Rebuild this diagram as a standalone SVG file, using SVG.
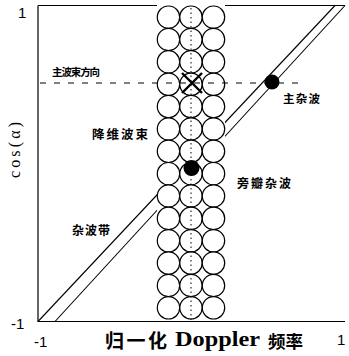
<svg xmlns="http://www.w3.org/2000/svg" xmlns:xlink="http://www.w3.org/1999/xlink" width="349" height="356" viewBox="0 0 349 356">
<style>
.ax{stroke:#000;stroke-width:1.2;fill:none}
.band{stroke:#000;stroke-width:1.1;fill:none}
.cell{stroke:#000;stroke-width:1.2;fill:#fff}
.dash{stroke:#000;stroke-width:1;stroke-dasharray:6 8;fill:none}
.dot{stroke:#000;stroke-width:1;stroke-dasharray:1.5 3;fill:none}
.num{font-family:"Liberation Sans",Arial,sans-serif;font-size:15px;fill:#000}
.cjk{font-family:"Noto Sans CJK SC","Noto Sans CJK JP",sans-serif;font-weight:bold;fill:#000}
.ser{font-family:"Liberation Serif","Times New Roman",serif;fill:#000}
</style>
<defs>
<g id="row">
<circle class="cell" cx="168.5" cy="0" r="11.2"/>
<circle class="cell" cx="191" cy="0" r="11.2"/>
<circle class="cell" cx="213.5" cy="0" r="11.2"/>
</g>
</defs>
<rect width="349" height="356" fill="#fff"/>
<g id="axes">
<path class="ax" d="M38,5.5 H345 M38,5.5 V321.5 H345"/>
</g>
<g id="connectors">
<path class="band" d="M38,321.5 L335,5.5"/>
<path class="band" d="M55,321.5 L345,5.5"/>
</g>
<g id="beams">
<rect x="157" y="5" width="68" height="316" fill="#fff"/>
<use xlink:href="#row" y="17.2"/>
<use xlink:href="#row" y="39.5"/>
<use xlink:href="#row" y="61.9"/>
<use xlink:href="#row" y="84.3"/>
<use xlink:href="#row" y="106.6"/>
<use xlink:href="#row" y="129"/>
<use xlink:href="#row" y="151.3"/>
<use xlink:href="#row" y="173.7"/>
<use xlink:href="#row" y="196"/>
<use xlink:href="#row" y="218.4"/>
<use xlink:href="#row" y="240.8"/>
<use xlink:href="#row" y="263.1"/>
<use xlink:href="#row" y="285.5"/>
<use xlink:href="#row" y="307.8"/>
<path class="dot" d="M191,8 V320"/>
</g>
<g id="main-beam-line">
<path class="dash" d="M40,83 H306"/>
</g>
<g id="target">
<path d="M182,73 L202,93 M202,73 L182,93" stroke="#000" stroke-width="2.4"/>
</g>
<g id="main-clutter">
<circle cx="272" cy="82" r="7.5" fill="#000"/>
</g>
<g id="sidelobe-clutter">
<circle cx="191.5" cy="168" r="8" fill="#000"/>
</g>
<g id="labels">
<text class="num" x="18" y="18">1</text>
<text class="num" x="11" y="329">-1</text>
<text class="num" x="34" y="347">-1</text>
<text class="num" x="337" y="345">1</text>
<text class="ser" font-size="16" transform="translate(20,150) rotate(-90)" text-anchor="middle" textLength="56" lengthAdjust="spacing">cos(α)</text>
<text class="cjk" font-size="10.5" x="52" y="76" textLength="48" lengthAdjust="spacing">主波束方向</text>
<text class="cjk" font-size="12.5" x="92" y="139" textLength="56" lengthAdjust="spacing">降维波束</text>
<text class="cjk" font-size="11.5" x="283" y="103" textLength="37" lengthAdjust="spacing">主杂波</text>
<text class="cjk" font-size="12" x="237" y="188" textLength="54" lengthAdjust="spacing">旁瓣杂波</text>
<text class="cjk" font-size="12" x="72" y="235" textLength="38" lengthAdjust="spacing">杂波带</text>
<text class="cjk" font-size="19" x="105" y="348" textLength="62" lengthAdjust="spacing">归一化</text>
<text class="ser" font-size="20" font-weight="bold" x="175" y="346" textLength="85" lengthAdjust="spacingAndGlyphs">Doppler</text>
<text class="cjk" font-size="17.5" x="268" y="348" textLength="35" lengthAdjust="spacing">频率</text>
</g>
</svg>
